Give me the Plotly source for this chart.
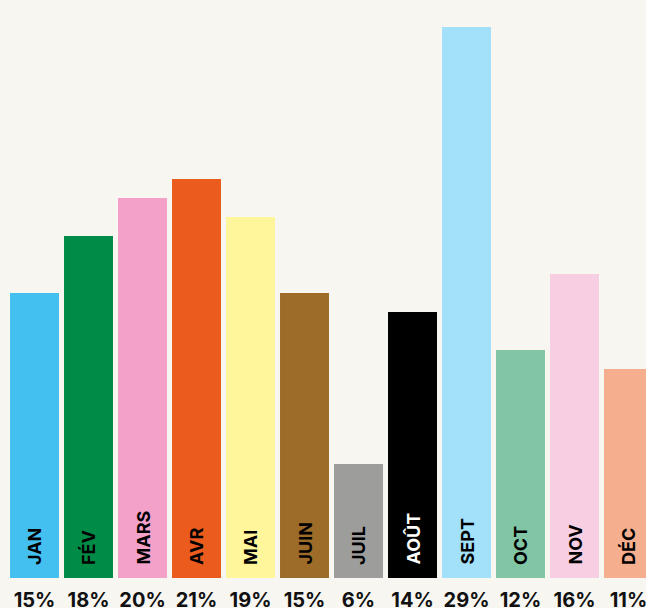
import plotly.graph_objects as go

months = ["JAN", "FÉV", "MARS", "AVR", "MAI", "JUIN", "JUIL", "AOÛT", "SEPT", "OCT", "NOV", "DÉC"]
values = [15, 18, 20, 21, 19, 15, 6, 14, 29, 12, 16, 11]
colors = ["#43c0f0", "#008c47", "#f4a1c9", "#eb5b1d", "#fff59b", "#9c6c28",
          "#9d9d9b", "#000000", "#a3e0f9", "#80c5a4", "#f8cee2", "#f5ae8e"]
label_colors = ["#000000"] * 7 + ["#ffffff"] + ["#000000"] * 4
pct_labels = [f"{v}%" for v in values]

x = list(range(len(months)))

fig = go.Figure(go.Bar(
    x=x, y=values,
    marker=dict(color=colors, line=dict(width=0)),
    width=0.907,
    hoverinfo="skip",
))

for i, (m, c) in enumerate(zip(months, label_colors)):
    fig.add_annotation(
        x=i, y=0, xref="x", yref="y",
        text=f"<b>{m}</b>", textangle=-90,
        showarrow=False, xanchor="center", yanchor="bottom", yshift=11,
        font=dict(family="Inter, Open Sans, sans-serif", size=18, color=c),
    )

fig.update_layout(
    width=646, height=608,
    margin=dict(l=0, r=0, t=0, b=30, autoexpand=False),
    paper_bgcolor="#f7f6f1", plot_bgcolor="#f7f6f1",
    showlegend=False,
    xaxis=dict(
        range=[-0.639, 11.324], tickmode="array", tickvals=x,
        ticktext=[f"<b>{p}</b>" for p in pct_labels],
        showgrid=False, zeroline=False, showline=False, ticks="",
        ticklabelstandoff=8, automargin=False, ticklabeloverflow="allow",
        tickfont=dict(family="Inter, Open Sans, sans-serif", size=20, color="#111111"),
    ),
    yaxis=dict(range=[0, 30.42], visible=False, showgrid=False, zeroline=False,
               automargin=False),
)

fig.write_html(
    "out.html",
    config={"displayModeBar": False},
    post_script="document.body.style.margin='0';document.body.style.overflow='hidden';"
                "document.body.style.background='#f7f6f1';",
)
